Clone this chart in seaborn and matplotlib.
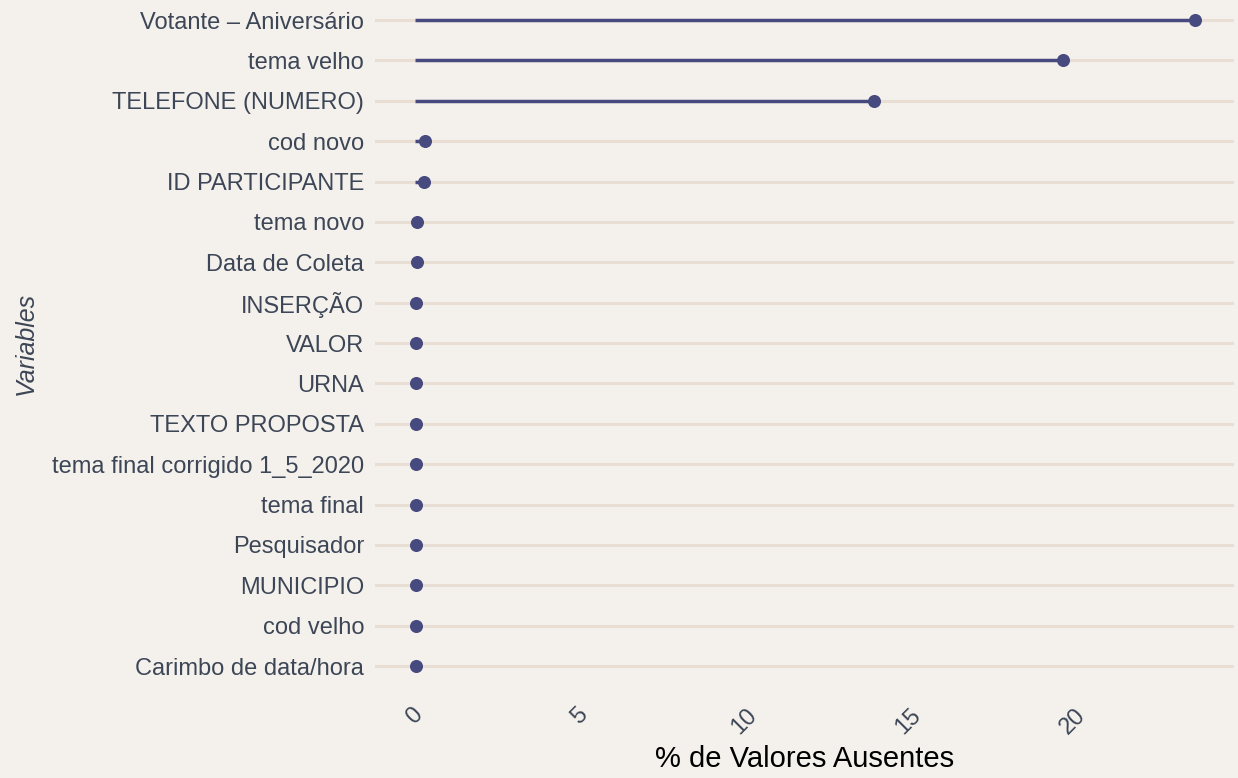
import matplotlib
matplotlib.use("Agg")
import matplotlib.pyplot as plt
import seaborn as sns
import pandas as pd

variables = ["Votante – Aniversário", "tema velho", "TELEFONE (NUMERO)", "cod novo",
             "ID PARTICIPANTE", "tema novo", "Data de Coleta", "INSERÇÃO", "VALOR",
             "URNA", "TEXTO PROPOSTA", "tema final corrigido 1_5_2020", "tema final",
             "Pesquisador", "MUNICIPIO", "cod velho", "Carimbo de data/hora"]
pct_missing = [23.71, 19.69, 13.95, 0.33, 0.28, 0.08, 0.06, 0.04, 0.04,
               0.04, 0.04, 0.04, 0.04, 0.04, 0.04, 0.04, 0.04]
x_ticks = [0, 5, 10, 15, 20]

df = pd.DataFrame({"variable": variables, "pct": pct_missing})

BG = "#F4F1EC"
GRID = "#E8DED4"
LOLLI = "#474A7E"
TXT = "#3D4656"

sns.set_theme(style="white")
plt.rcParams["font.family"] = ["Liberation Sans", "DejaVu Sans"]

fig = plt.figure(figsize=(12.38, 7.78), dpi=100, facecolor=BG)
ax = fig.add_axes([0.3030, 0.1128, 0.6940, 0.8926])
ax.set_facecolor(BG)

n = len(variables)
for i in range(n):
    ax.axhline(i, color=GRID, lw=2.2, zorder=0)

ax.hlines(y=range(n), xmin=0, xmax=df["pct"], color=LOLLI, lw=2.5, zorder=2)
sns.stripplot(data=df, x="pct", y="variable", order=variables, jitter=False,
              color=LOLLI, size=9.4, linewidth=0, ax=ax, zorder=3)

ax.set_ylim(n - 1 + 0.6, -0.6)
ax.set_xlim(-1.2, 24.9)
ax.set_xticks(x_ticks)
ax.set_xticklabels([str(t) for t in x_ticks], rotation=45, ha="center", va="top",
                   fontsize=17, color=TXT)
ax.tick_params(axis="x", length=0, pad=10)
ax.tick_params(axis="y", length=0, pad=8, labelsize=17, labelcolor=TXT)
for s in ax.spines.values():
    s.set_visible(False)
ax.grid(False)

ax.set_xlabel("% de Valores Ausentes", fontsize=21, color="black", labelpad=5)
ax.set_ylabel("Variables", fontsize=18, color=TXT, style="italic", labelpad=10)

fig.savefig("out.png", dpi=100, facecolor=BG)
